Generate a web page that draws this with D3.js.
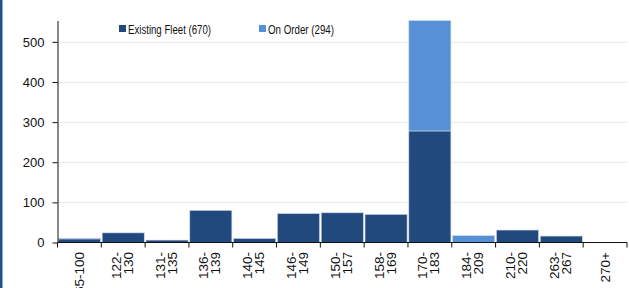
<!DOCTYPE html>
<html>
<head>
<meta charset="utf-8">
<script src="https://cdn.jsdelivr.net/npm/d3@7"></script>
<style>
  body { margin: 0; background: #fff; }
  svg { display: block; }
  .tick text { font-family: "Liberation Sans", Arial, sans-serif; fill: #111; }
</style>
</head>
<body>
<svg id="chart" width="629" height="288"></svg>
<script>
// length bands (cm)
var categories = [["65-100"], ["122-", "130"], ["131-", "135"], ["136-", "139"], ["140-", "145"],
    ["146-", "149"], ["150-", "157"], ["158-", "169"], ["170-", "183"], ["184-", "209"],
    ["210-", "220"], ["263-", "267"], ["270+"]];
var existingFleet = [9, 24, 6, 80, 10, 72, 74, 70, 278, 0, 31, 16, 0];
var onOrder = [2, 0, 0, 0, 0, 0, 0, 0, 275, 17, 0, 0, 0];
var seriesNames = ["Existing Fleet (670)", "On Order (294)"];
var yTicks = [0, 100, 200, 300, 400, 500];

var DARK = "#21497d", LIGHT = "#5690d6";

var svg = d3.select("#chart");
// note: "top" is taken by window.top, so plot edges get their own names
var plotL = 57.5, plotR = 627, plotT = 21, plotB = 242.5;

// blue frame line on the left
svg.append("rect").attr("x", 0).attr("y", 0).attr("width", 2.5).attr("height", 288).attr("fill", "#24528f");

var keys = categories.map(function (c) { return c.join(""); });
var x = d3.scaleBand().domain(keys).range([plotL, plotR]).paddingInner(0.04).paddingOuter(0.02);
var y = d3.scaleLinear().domain([0, 552]).range([plotB, plotT]);

// grid
svg.append("g").selectAll("line")
    .data(yTicks.filter(function (t) { return t > 0; }))
    .enter().append("line")
    .attr("x1", plotL).attr("x2", plotR)
    .attr("y1", function (d) { return Math.round(y(d)) + 0.5; })
    .attr("y2", function (d) { return Math.round(y(d)) + 0.5; })
    .attr("stroke", "#d4d4d4").attr("stroke-dasharray", "1,1");

var rows = keys.map(function (k, i) { return { key: k, existing: existingFleet[i], order: onOrder[i] }; });
var stacked = d3.stack().keys(["existing", "order"])(rows);
var colors = [DARK, LIGHT];

svg.append("g").selectAll("g")
    .data(stacked)
    .enter().append("g")
    .attr("fill", function (d, i) { return colors[i]; })
    .selectAll("rect")
    .data(function (d) { return d.filter(function (p) { return p[1] > p[0]; }); })
    .enter().append("rect")
    .attr("x", function (d) { return x(d.data.key); })
    .attr("width", x.bandwidth())
    .attr("y", function (d) { return y(d[1]); })
    .attr("height", function (d) { return y(d[0]) - y(d[1]); })
    .attr("stroke", "#c9d6ea").attr("stroke-width", 0.6);

// y axis
var yAxis = svg.append("g")
    .attr("transform", "translate(" + plotL + ",0)")
    .call(d3.axisLeft(y).tickValues(yTicks).tickSize(5).tickPadding(8).tickSizeOuter(0));
yAxis.select(".domain").attr("stroke", "#111").attr("d", "M0.5," + plotT + "V" + plotB);
yAxis.selectAll("line").attr("stroke", "#111");
yAxis.selectAll("text").attr("font-size", 13);

// x axis: ticks on band edges
var edges = keys.map(function (k) { return x(k) - x.step() * x.paddingInner() / 2; });
edges.push(plotR);
var xg = svg.append("g");
xg.append("line").attr("x1", plotL).attr("x2", plotR).attr("y1", plotB).attr("y2", plotB)
    .attr("stroke", "#111");
xg.selectAll(".edge").data(edges).enter().append("line")
    .attr("x1", function (d) { return d; }).attr("x2", function (d) { return d; })
    .attr("y1", plotB).attr("y2", plotB + 5).attr("stroke", "#111");

var labels = xg.selectAll(".lab").data(categories).enter().append("text")
    .attr("transform", function (d, i) {
        return "translate(" + (x(keys[i]) + x.bandwidth() / 2) + ",252) rotate(-90)";
    })
    .attr("text-anchor", "end")
    .attr("font-family", "Liberation Sans, Arial, sans-serif")
    .attr("font-size", 13.5).attr("fill", "#111");
labels.each(function (d) {
    var t = d3.select(this);
    if (d.length === 1) {
        t.append("tspan").attr("x", 0).attr("y", 4.5).text(d[0]);
    } else {
        t.append("tspan").attr("x", 0).attr("y", -2.5).text(d[0]);
        t.append("tspan").attr("x", 0).attr("y", 9.5).text(d[1]);
    }
});

// legend (narrow face in the original, squeeze regular sans to fit)
var legend = svg.append("g").attr("font-family", "Liberation Sans Narrow, Arial Narrow, Liberation Sans, sans-serif")
    .attr("font-size", 12).attr("fill", "#111");
var legX = [119, 259], legW = [83, 66];
seriesNames.forEach(function (name, i) {
    legend.append("rect").attr("x", legX[i]).attr("y", 25).attr("width", 7).attr("height", 7).attr("fill", colors[i]);
    legend.append("text").attr("x", legX[i] + 9).attr("y", 33.5)
        .attr("textLength", legW[i]).attr("lengthAdjust", "spacingAndGlyphs").text(name);
});
</script>
</body>
</html>
